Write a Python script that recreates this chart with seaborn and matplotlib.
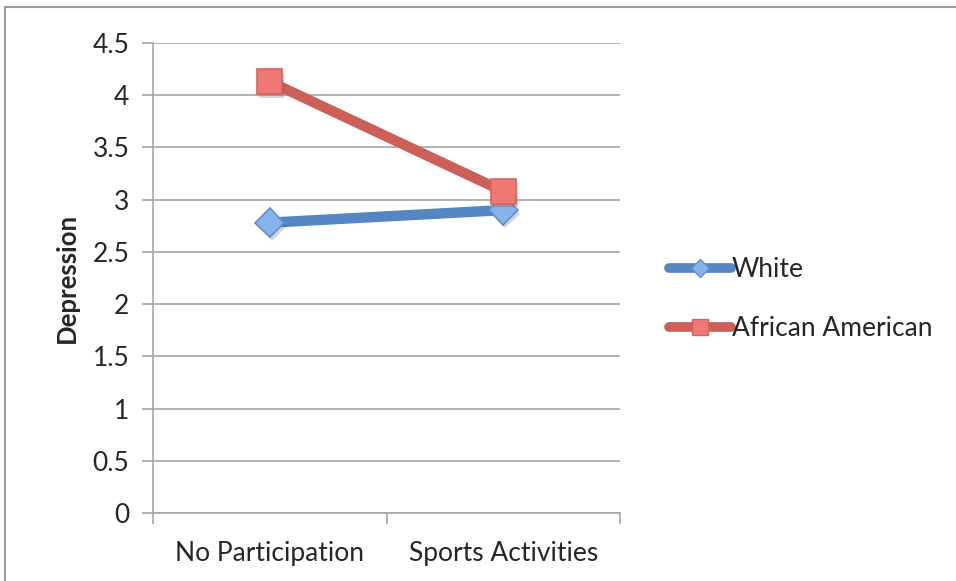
import matplotlib
matplotlib.use("Agg")
import matplotlib.pyplot as plt
import matplotlib.patheffects as pe
import seaborn as sns
import pandas as pd

# Mean depression scores by activity group and race
categories = ["No Participation", "Sports Activities"]
white = [2.78, 2.90]
african_american = [4.13, 3.08]
series_names = ["White", "African American"]
y_ticks = [0, 0.5, 1, 1.5, 2, 2.5, 3, 3.5, 4, 4.5]

df = pd.DataFrame({
    "Activity": categories * 2,
    "Depression": white + african_american,
    "Group": [series_names[0]] * 2 + [series_names[1]] * 2,
})

sns.set_theme(style="white")
plt.rcParams["font.family"] = ["Lato", "DejaVu Sans"]

fig = plt.figure(figsize=(9.56, 5.81), dpi=100)
ax = fig.add_axes([153 / 956, 68 / 581, 467 / 956, 470 / 581])

line_colors = {"White": "#5586c4", "African American": "#cc5f58"}
marker_face = {"White": "#86b4ea", "African American": "#ee7873"}
marker_edge = {"White": "#5f90cf", "African American": "#d6645d"}
markers = {"White": "D", "African American": "s"}

sns.lineplot(data=df, x="Activity", y="Depression", hue="Group",
             palette=line_colors, linewidth=7.5, ax=ax, legend=False,
             sort=False)

# markers drawn separately so each series keeps its own fill, edge and shadow
for name, vals, ms in [("White", white, 15), ("African American", african_american, 18)]:
    ax.plot(range(len(categories)), vals, linestyle="none",
            marker=markers[name], markersize=ms,
            markerfacecolor=marker_face[name], markeredgecolor=marker_edge[name],
            markeredgewidth=1.2, zorder=5,
            path_effects=[pe.SimplePatchShadow(offset=(1.5, -2.5), alpha=0.25,
                                               shadow_rgbFace="#555555"),
                          pe.Normal()])

ax.set_xlim(-0.5, 1.5)
ax.set_ylim(0, 4.5)
ax.set_yticks(y_ticks)
ax.set_yticklabels([f"{t:g}" for t in y_ticks])
ax.yaxis.grid(True, color="#a6a6a6", linewidth=1.2)
ax.set_axisbelow(True)

ax.set_xticks([0, 1])
ax.set_xticklabels(categories)
ax.set_xticks([-0.5, 0.5, 1.5], minor=True)
ax.tick_params(axis="x", which="major", length=0, pad=20, labelsize=19)
ax.tick_params(axis="x", which="minor", length=8, width=1.2, color="#a6a6a6",
               direction="out", bottom=True)
ax.tick_params(axis="y", which="major", length=8, width=1.2, color="#a6a6a6",
               direction="out", left=True, pad=9, labelsize=19)

for side in ["top", "right"]:
    ax.spines[side].set_visible(False)
for side in ["left", "bottom"]:
    ax.spines[side].set_color("#a6a6a6")
    ax.spines[side].set_linewidth(1.2)

ax.set_xlabel("")
ax.set_ylabel("Depression", fontsize=18.5, fontweight="bold", labelpad=10)

# legend entries: line with the series marker in the middle
handles = []
for name in series_names:
    h, = ax.plot([], [], color=line_colors[name], linewidth=7,
                 marker=markers[name],
                 markersize=9 if name == "White" else 11,
                 markerfacecolor=marker_face[name], markeredgecolor=marker_edge[name])
    handles.append(h)
fig.legend(handles, series_names, loc="upper left",
           bbox_to_anchor=(645 / 956, 1 - 233 / 581), frameon=False,
           fontsize=19, handlelength=2.35, handletextpad=0.05, labelspacing=1.3)

# outer chart frame
fig.add_artist(plt.Line2D([5 / 956, 1], [1 - 7 / 581, 1 - 7 / 581],
                          transform=fig.transFigure, color="#9a9a9a", linewidth=1.5))
fig.add_artist(plt.Line2D([5 / 956, 5 / 956], [0, 1 - 7 / 581],
                          transform=fig.transFigure, color="#9a9a9a", linewidth=1.5))

fig.savefig("out.png", dpi=100, facecolor="white")
